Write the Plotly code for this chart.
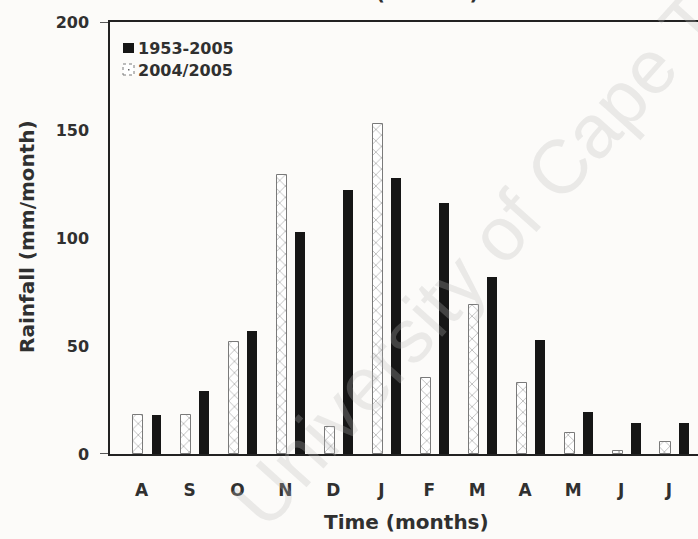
import plotly.graph_objects as go

# Monthly rainfall, hydrological year August -> July
months = ["A", "S", "O", "N", "D", "J", "F", "M", "A", "M", "J", "J"]
long_term = [18, 29, 57, 103, 122, 128, 116, 82, 53, 19.5, 14.5, 14.5]    # 1953-2005 mean
season = [18, 18, 52, 129, 12.5, 153, 35, 69, 33, 9.5, 1.5, 5.5]           # 2004/2005
y_ticks = [0, 50, 100, 150, 200]

pos = list(range(len(months)))
FONT = "DejaVu Sans"
TXT = "#303030"
BG = "#fcfbf9"

fig = go.Figure()

fig.add_trace(go.Bar(
    x=pos, y=season, name="2004/2005",
    width=0.21, offset=-0.298,
    marker=dict(
        color="white",
        line=dict(color="#7a7a7a", width=1),
        pattern=dict(shape="x", fgcolor="#6e6e6e", bgcolor="white",
                     size=8, solidity=0.2),
    ),
))
fig.add_trace(go.Bar(
    x=pos, y=long_term, name="1953-2005",
    width=0.2, offset=0.088,
    marker=dict(color="#161616", line=dict(width=0)),
))

W, H = 698, 539
L, R, T, B = 110, 0, 22, 85
pw, ph = W - L - R, H - T - B


def px_x(p):
    return (p - L) / pw


def px_y(p):
    return (H - B - p) / ph


shapes = [
    # short tick stubs at the ends of the value axis
    dict(type="line", xref="paper", yref="y", x0=px_x(100), x1=0, y0=200, y1=200,
         line=dict(color="#222", width=1.5)),
    dict(type="line", xref="paper", yref="y", x0=px_x(100), x1=0, y0=0, y1=0,
         line=dict(color="#222", width=1.5)),
    # legend swatches
    dict(type="rect", xref="paper", yref="paper",
         x0=px_x(123), x1=px_x(134), y0=px_y(53), y1=px_y(43),
         fillcolor="#161616", line=dict(width=0)),
    dict(type="rect", xref="paper", yref="paper",
         x0=px_x(123), x1=px_x(134), y0=px_y(75), y1=px_y(64),
         fillcolor="white", line=dict(color="#7a7a7a", width=1, dash="dot")),
    dict(type="rect", xref="paper", yref="paper",
         x0=px_x(128), x1=px_x(129.5), y0=px_y(70.5), y1=px_y(69),
         fillcolor="#666", line=dict(width=0)),
]

annotations = [
    dict(text="1953-2005", xref="paper", yref="paper", x=px_x(136), y=px_y(48),
         xanchor="left", yanchor="middle", showarrow=False,
         font=dict(family=FONT, size=16, color=TXT, weight="bold")),
    dict(text="2004/2005", xref="paper", yref="paper", x=px_x(136), y=px_y(70),
         xanchor="left", yanchor="middle", showarrow=False,
         font=dict(family=FONT, size=16, color=TXT, weight="bold")),
    # axis titles
    dict(text="Time (months)", xref="paper", yref="paper", x=px_x(406), y=px_y(522),
         xanchor="center", yanchor="middle", showarrow=False,
         font=dict(family=FONT, size=20, color=TXT, weight="bold")),
    dict(text="Time (months)", xref="paper", yref="paper", x=px_x(396), y=px_y(-7),
         xanchor="center", yanchor="middle", showarrow=False,
         font=dict(family=FONT, size=20, color=TXT, weight="bold")),
    dict(text="Rainfall (mm/month)", xref="paper", yref="paper", x=px_x(27), y=px_y(237),
         xanchor="center", yanchor="middle", textangle=-90, showarrow=False,
         font=dict(family=FONT, size=20, color=TXT, weight="bold")),
    # watermark
    dict(text="University of Cape Town", xref="paper", yref="paper",
         x=px_x(520), y=px_y(210), xanchor="center", yanchor="middle",
         textangle=-48, showarrow=False,
         font=dict(family="Liberation Sans", size=76, color="rgba(185,185,185,0.28)")),
]

fig.update_layout(
    width=W, height=H,
    margin=dict(l=L, r=R, t=T, b=B, pad=0),
    paper_bgcolor=BG, plot_bgcolor=BG,
    showlegend=False,
    bargap=0,
    shapes=shapes,
    annotations=annotations,
    xaxis=dict(
        range=[-0.778, 11.485],
        tickmode="array",
        tickvals=[p - 0.12 for p in pos],
        ticktext=months,
        ticks="outside", ticklen=20, tickcolor="rgba(0,0,0,0)",
        tickfont=dict(family=FONT, size=17, color=TXT, weight="bold"),
        showline=True, linecolor="#222", linewidth=1.5, mirror=True,
        showgrid=False, zeroline=False,
    ),
    yaxis=dict(
        range=[0, 200],
        tickmode="array",
        tickvals=y_ticks,
        ticks="outside", ticklen=16, tickcolor="rgba(0,0,0,0)",
        tickfont=dict(family=FONT, size=16, color=TXT, weight="bold"),
        showline=True, linecolor="#222", linewidth=1.5,
        showgrid=False, zeroline=False,
    ),
)

fig.write_html("out.html")
